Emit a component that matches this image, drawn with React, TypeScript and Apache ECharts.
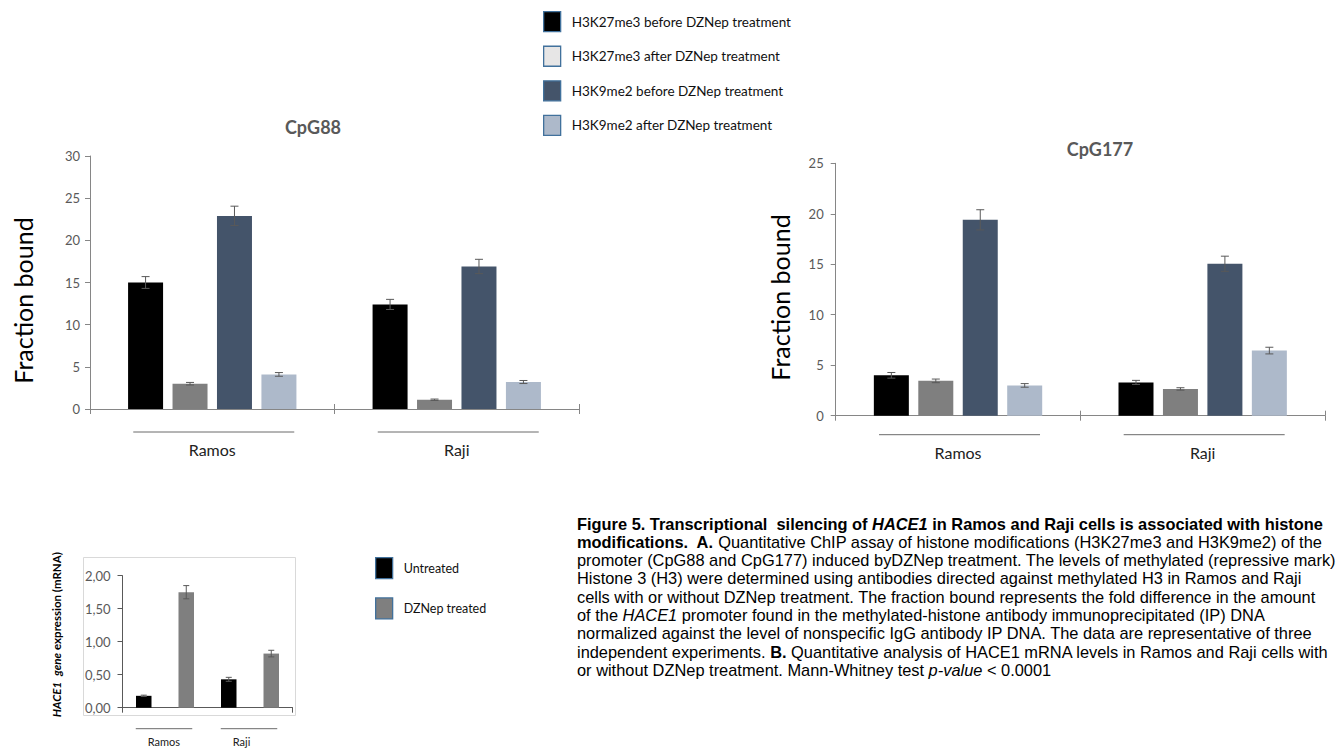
import React, { useEffect, useRef } from 'react';
import * as echarts from 'echarts';

// ---------- data ----------
const CELL_LINES = ['Ramos', 'Raji'];
const SERIES_NAMES = [
  'H3K27me3 before DZNep treatment',
  'H3K27me3 after DZNep treatment',
  'H3K9me2 before DZNep treatment',
  'H3K9me2 after DZNep treatment',
];
const BAR_COLORS = ['#000000', '#7f7f7f', '#44546a', '#adb9ca'];
const LEGEND_COLORS = ['#000000', '#e7e6e6', '#44546a', '#adb9ca'];

const CPG88_TITLE = 'CpG88';
const CPG88_Y_TICKS = [0, 5, 10, 15, 20, 25, 30];
const CPG88_VALUES = [
  [15.0, 12.4],
  [3.0, 1.1],
  [22.9, 16.9],
  [4.1, 3.2],
];
const CPG88_ERRORS = [
  [0.7, 0.6],
  [0.15, 0.08],
  [1.15, 0.85],
  [0.22, 0.18],
];

const CPG177_TITLE = 'CpG177';
const CPG177_Y_TICKS = [0, 5, 10, 15, 20, 25];
const CPG177_VALUES = [
  [4.0, 3.3],
  [3.45, 2.65],
  [19.4, 15.05],
  [3.0, 6.45],
];
const CPG177_ERRORS = [
  [0.28, 0.2],
  [0.18, 0.12],
  [1.0, 0.75],
  [0.18, 0.33],
];

const Y_NAME_A = 'Fraction bound';

const HACE_CATEGORIES = ['Ramos untreated', 'Ramos DZNep treated', 'Raji untreated', 'Raji DZNep treated'];
const HACE_GROUPS = ['Ramos', 'Raji'];
const HACE_SERIES = ['Untreated', 'DZNep treated'];
const HACE_COLORS = ['#000000', '#7f7f7f'];
const HACE_UNTREATED = [0.18, null, 0.43, null];
const HACE_TREATED = [null, 1.75, null, 0.82];
const HACE_UNTREATED_ERR = [0.01, null, 0.03, null];
const HACE_TREATED_ERR = [null, 0.1, null, 0.05];
const HACE_Y_TICKS = [0, 0.5, 1, 1.5, 2];

const CAPTION_LINES: [string, string][][] = [
  [['b', 'Figure 5. Transcriptional  silencing of '], ['bi', 'HACE1'], ['b', ' in Ramos and Raji cells is associated with histone']],
  [['b', 'modifications.  A.'], ['n', ' Quantitative ChIP assay of histone modifications (H3K27me3 and H3K9me2) of the']],
  [['n', 'promoter (CpG88 and CpG177) induced byDZNep treatment. The levels of methylated (repressive mark)']],
  [['n', 'Histone 3 (H3) were determined using antibodies directed against methylated H3 in Ramos and Raji']],
  [['n', 'cells with or without DZNep treatment. The fraction bound represents the fold difference in the amount']],
  [['n', 'of the '], ['i', 'HACE1'], ['n', ' promoter found in the methylated-histone antibody immunoprecipitated (IP) DNA']],
  [['n', 'normalized against the level of nonspecific IgG antibody IP DNA. The data are representative of three']],
  [['n', 'independent experiments. '], ['b', 'B.'], ['n', ' Quantitative analysis of HACE1 mRNA levels in Ramos and Raji cells with']],
  [['n', 'or without DZNep treatment. Mann-Whitney test '], ['i', 'p-value'], ['n', ' < 0.0001']],
];

// ---------- styling ----------
const FONT = 'Lato';
const CAPTION_FONT = 'Liberation Sans';
const AXIS_COLOR = '#868686';
const TICK_LABEL_COLOR = '#595959';
const ERR_COLOR = '#595959';
const BAR_W = 35;
const BAR_GAP = 0.27;

function errorSeries(
  xAxisIndex: number,
  yAxisIndex: number,
  values: (number | null)[][],
  errors: (number | null)[][],
  barW: number,
  gapFrac: number,
  capW: number,
  overlap: boolean
) {
  const data: number[][] = [];
  values.forEach((row, s) =>
    row.forEach((v, c) => {
      const e = errors[s][c];
      if (v != null && e != null) data.push([c, v, e, s]);
    })
  );
  const n = values.length;
  return {
    type: 'custom',
    xAxisIndex,
    yAxisIndex,
    z: 5,
    silent: true,
    clip: false,
    encode: { x: 0, y: 1 },
    data,
    renderItem: (params: any, api: any) => {
      const c = api.value(0);
      const v = api.value(1);
      const e = api.value(2);
      const s = api.value(3);
      const step = barW * (1 + gapFrac);
      const off = overlap ? 0 : (s - (n - 1) / 2) * step;
      const top = api.coord([c, v + e]);
      const bot = api.coord([c, v - e]);
      const x = top[0] + off;
      const style = { stroke: ERR_COLOR, lineWidth: 1 };
      return {
        type: 'group',
        children: [
          { type: 'line', shape: { x1: x, y1: top[1], x2: x, y2: bot[1] }, style },
          { type: 'line', shape: { x1: x - capW / 2, y1: top[1], x2: x + capW / 2, y2: top[1] }, style },
          { type: 'line', shape: { x1: x - capW / 2, y1: bot[1], x2: x + capW / 2, y2: bot[1] }, style },
        ],
      };
    },
  };
}

function yAxisFrom(ticks: number[], gridIndex: number, extra: any) {
  return {
    type: 'value',
    gridIndex,
    min: ticks[0],
    max: ticks[ticks.length - 1],
    interval: ticks[1] - ticks[0],
    axisLine: { show: true, lineStyle: { color: AXIS_COLOR, width: 1 } },
    axisTick: { show: true, length: 5, lineStyle: { color: AXIS_COLOR } },
    splitLine: { show: false },
    axisLabel: { color: TICK_LABEL_COLOR, fontSize: 13, fontFamily: FONT, margin: 10 },
    ...extra,
  };
}

function xAxisMain(gridIndex: number, data: string[], labelMargin: number) {
  return {
    type: 'category',
    gridIndex,
    data,
    axisLine: { show: true, lineStyle: { color: AXIS_COLOR } },
    axisTick: { show: true, length: 5, lineStyle: { color: AXIS_COLOR } },
    axisLabel: { show: true, color: '#222', fontSize: 16, fontFamily: FONT, margin: labelMargin },
  };
}

function xAxisCross(gridIndex: number, data: string[]) {
  return {
    type: 'category',
    gridIndex,
    data,
    position: 'bottom',
    axisLine: { show: false },
    axisTick: { show: true, inside: true, length: 5, lineStyle: { color: AXIS_COLOR } },
    axisLabel: { show: false },
  };
}

function buildOption() {
  const series: any[] = [];
  SERIES_NAMES.forEach((name, i) => {
    series.push({
      type: 'bar',
      name,
      xAxisIndex: 0,
      yAxisIndex: 0,
      data: CPG88_VALUES[i],
      barWidth: BAR_W,
      barGap: BAR_GAP * 100 + '%',
      itemStyle: { color: BAR_COLORS[i] },
    });
  });
  SERIES_NAMES.forEach((name, i) => {
    series.push({
      type: 'bar',
      name,
      xAxisIndex: 2,
      yAxisIndex: 1,
      data: CPG177_VALUES[i],
      barWidth: BAR_W,
      barGap: BAR_GAP * 100 + '%',
      itemStyle: { color: BAR_COLORS[i] },
    });
  });
  series.push(errorSeries(0, 0, CPG88_VALUES, CPG88_ERRORS, BAR_W, BAR_GAP, 8, false));
  series.push(errorSeries(2, 1, CPG177_VALUES, CPG177_ERRORS, BAR_W, BAR_GAP, 8, false));

  const haceVals = [HACE_UNTREATED, HACE_TREATED];
  const haceErrs = [HACE_UNTREATED_ERR, HACE_TREATED_ERR];
  HACE_SERIES.forEach((name, i) => {
    series.push({
      type: 'bar',
      name,
      xAxisIndex: 4,
      yAxisIndex: 2,
      data: haceVals[i],
      barWidth: 15.5,
      barGap: '-100%',
      itemStyle: { color: HACE_COLORS[i] },
    });
  });
  series.push(errorSeries(4, 2, haceVals, haceErrs, 15.5, 0, 6, true));

  return {
    animation: false,
    backgroundColor: '#ffffff',
    textStyle: { fontFamily: FONT },
    grid: [
      { left: 90, top: 156, width: 489, height: 253 },
      { left: 835.7, top: 163.3, width: 489.3, height: 252.4 },
      { left: 122.5, top: 575.7, width: 170, height: 132 },
    ],
    xAxis: [
      xAxisMain(0, CELL_LINES, 32),
      xAxisCross(0, CELL_LINES),
      xAxisMain(1, CELL_LINES, 29),
      xAxisCross(1, CELL_LINES),
      {
        type: 'category',
        gridIndex: 2,
        data: HACE_CATEGORIES,
        axisLine: { show: true, lineStyle: { color: '#595959' } },
        axisTick: { show: true, length: 5, lineStyle: { color: '#595959' } },
        axisLabel: { show: false },
      },
    ],
    yAxis: [
      yAxisFrom(CPG88_Y_TICKS, 0, {
        name: Y_NAME_A,
        nameLocation: 'middle',
        nameRotate: 90,
        nameGap: 55,
        nameTextStyle: { fontSize: 25, color: '#000', fontFamily: FONT, padding: [0, 36, 0, 0] },
      }),
      yAxisFrom(CPG177_Y_TICKS, 1, {
        name: Y_NAME_A,
        nameLocation: 'middle',
        nameRotate: 90,
        nameGap: 43,
        nameTextStyle: { fontSize: 25, color: '#000', fontFamily: FONT, padding: [0, 16, 0, 0] },
        axisLabel: { color: TICK_LABEL_COLOR, fontSize: 13, fontFamily: FONT, margin: 12 },
      }),
      yAxisFrom(HACE_Y_TICKS, 2, {
        axisLine: { show: true, lineStyle: { color: '#595959' } },
        axisTick: { show: true, length: 5, lineStyle: { color: '#595959' } },
        axisLabel: {
          color: TICK_LABEL_COLOR,
          fontSize: 13,
          fontFamily: FONT,
          margin: 12,
          formatter: (v: number) => v.toFixed(2).replace('.', ','),
        },
        name: '{i|HACE1}  {i|gene} {b|expression (mRNA)}',
        nameLocation: 'middle',
        nameRotate: 90,
        nameGap: 60,
        nameTextStyle: {
          fontSize: 11.5,
          color: '#000',
          padding: [0, 0, 0, 14],
          rich: {
            i: { fontStyle: 'italic', fontWeight: 'bold', fontSize: 11.5, fontFamily: FONT, color: '#000' },
            b: { fontWeight: 'bold', fontSize: 11.5, fontFamily: FONT, color: '#000' },
          },
        },
      }),
    ],
    legend: [
      {
        left: 543,
        top: 11,
        padding: 0,
        orient: 'vertical',
        itemWidth: 17,
        itemHeight: 20,
        itemGap: 13.3,
        selectedMode: false,
        data: SERIES_NAMES.map((name, i) => ({
          name,
          icon: 'rect',
          itemStyle: { color: LEGEND_COLORS[i], borderColor: '#41719c', borderWidth: 1.3 },
        })),
        textStyle: { fontFamily: FONT, fontSize: 13.5, color: '#111', padding: [0, 0, 0, 6] },
      },
      {
        left: 375,
        top: 557,
        padding: 0,
        orient: 'vertical',
        itemWidth: 17,
        itemHeight: 21,
        itemGap: 18,
        selectedMode: false,
        data: HACE_SERIES.map((name, i) => ({
          name,
          icon: 'rect',
          itemStyle: { color: HACE_COLORS[i], borderColor: '#41719c', borderWidth: 1.3 },
        })),
        textStyle: { fontFamily: FONT, fontSize: 12.5, color: '#111', padding: [0, 0, 0, 6] },
      },
    ],
    series,
  };
}

const CAPTION_RICH = {
  n: { fontFamily: CAPTION_FONT, fontSize: 16.4, lineHeight: 17, color: '#000' },
  b: { fontFamily: CAPTION_FONT, fontSize: 16.4, lineHeight: 17, fontWeight: 'bold', color: '#000' },
  i: { fontFamily: CAPTION_FONT, fontSize: 16.4, lineHeight: 17, fontStyle: 'italic', color: '#000' },
  bi: { fontFamily: CAPTION_FONT, fontSize: 16.4, lineHeight: 17, fontWeight: 'bold', fontStyle: 'italic', color: '#000' },
};

export default function App() {
  const ref = useRef<HTMLDivElement>(null);
  useEffect(() => {
    const chart = echarts.init(ref.current!, null, { renderer: 'svg' });
    chart.setOption(buildOption() as any);

    const graphics: any[] = [];
    const lineStyle = { stroke: '#6b6b6b', lineWidth: 1 };

    // group underlines for CpG charts
    const groupLines = (xAxisIndex: number, yAxisIndex: number, offset: number) => {
      const y0 = chart.convertToPixel({ yAxisIndex } as any, 0) as number;
      CELL_LINES.forEach((_, i) => {
        const c = chart.convertToPixel({ xAxisIndex } as any, i) as number;
        graphics.push({
          type: 'line',
          silent: true,
          shape: { x1: c - 79, y1: y0 + offset, x2: c + 82, y2: y0 + offset },
          style: lineStyle,
        });
      });
    };
    groupLines(0, 0, 23);
    groupLines(2, 1, 19);

    // HACE1 group lines and labels
    const hy0 = chart.convertToPixel({ yAxisIndex: 2 } as any, 0) as number;
    HACE_GROUPS.forEach((g, gi) => {
      const c0 = chart.convertToPixel({ xAxisIndex: 4 } as any, gi * 2) as number;
      const c1 = chart.convertToPixel({ xAxisIndex: 4 } as any, gi * 2 + 1) as number;
      graphics.push({
        type: 'line',
        silent: true,
        shape: { x1: c0 - 8, y1: hy0 + 21, x2: c1 + 6, y2: hy0 + 21 },
        style: lineStyle,
      });
      graphics.push({
        type: 'text',
        silent: true,
        x: c0 + 4,
        y: hy0 + 34,
        style: { text: g, fontFamily: FONT, fontSize: 11, fill: '#222', textAlign: 'left', textVerticalAlign: 'middle' },
      });
    });

    // frame of the HACE1 chart
    graphics.push({
      type: 'rect',
      silent: true,
      z: -1,
      shape: { x: 83.5, y: 557.5, width: 212, height: 158 },
      style: { fill: 'none', stroke: '#d9d9d9', lineWidth: 1 },
    });

    // titles
    graphics.push({
      type: 'text',
      x: 313,
      y: 127,
      style: { text: CPG88_TITLE, fontFamily: FONT, fontSize: 18, fontWeight: 'bold', fill: '#595959', textAlign: 'center', textVerticalAlign: 'middle' },
    });
    graphics.push({
      type: 'text',
      x: 1100,
      y: 149,
      style: { text: CPG177_TITLE, fontFamily: FONT, fontSize: 18, fontWeight: 'bold', fill: '#595959', textAlign: 'center', textVerticalAlign: 'middle' },
    });

    // caption
    CAPTION_LINES.forEach((segs, li) => {
      const text = segs.map(([k, t]) => `{${k}|${t}}`).join('');
      graphics.push({
        type: 'text',
        x: 577,
        y: 523.5 + li * 18.3,
        style: { text, rich: CAPTION_RICH, textAlign: 'left', textVerticalAlign: 'middle' },
      });
    });

    chart.setOption({ graphic: graphics } as any);
    return () => chart.dispose();
  }, []);
  return (
    <div
      ref={ref}
      style={{ position: 'fixed', left: 0, top: 0, width: 1339, height: 749, background: '#fff' }}
    />
  );
}
